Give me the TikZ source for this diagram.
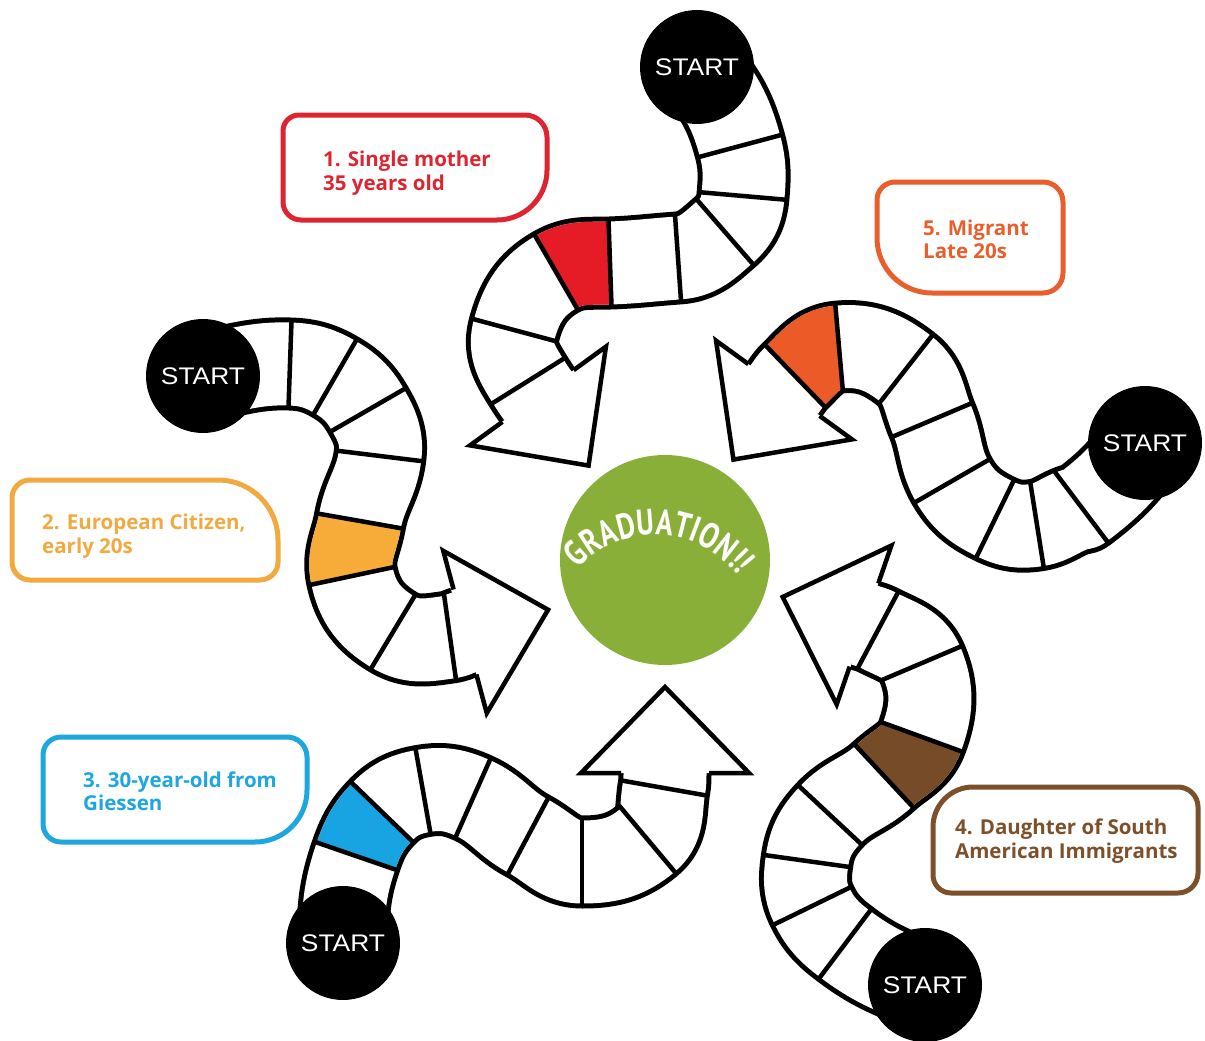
\documentclass[tikz,border=0pt]{standalone}
\usepackage{fontspec}
\usetikzlibrary{decorations.text}
\newfontfamily\labelfont{Open Sans}
\newfontfamily\startfont[FakeStretch=1.1]{Liberation Sans}
\newfontfamily\gradfont[FakeStretch=0.78]{PT Sans}
\definecolor{redc}{RGB}{221,37,49}
\definecolor{redcell}{RGB}{229,28,38}
\definecolor{yelc}{RGB}{240,170,64}
\definecolor{yelcell}{RGB}{247,172,58}
\definecolor{bluec}{RGB}{30,166,222}
\definecolor{bluecell}{RGB}{24,164,226}
\definecolor{brownc}{RGB}{124,80,42}
\definecolor{browncell}{RGB}{118,76,40}
\definecolor{orc}{RGB}{232,94,44}
\definecolor{orcell}{RGB}{236,90,40}
\definecolor{gradgreen}{RGB}{137,175,57}

% #1 path, #2 coloured cell path, #3 cell colour, #4 cross lines x/y/heading, #5 arrow x/y/heading
\newcommand{\mytrack}[5]{%
  \draw[trackout] #1;
  \draw[trackin] #1;
  \draw[cellfill, draw=#3] #2;
  \foreach \x/\y/\h in {#4} {\draw[crossline, shift={(\x,\y)}, rotate=\h] (0,-45) -- (0,45);}
  \foreach \x/\y/\h in {#5} {%
    \fill[white, shift={(\x,\y)}, rotate=\h] (-3,-40) -- (0,-40) -- (0,-84) -- (86,0) -- (0,84) -- (0,40) -- (-3,40) -- cycle;
    \draw[arrowhd, shift={(\x,\y)}, rotate=\h] (0,44) -- (0,84) -- (86,0) -- (0,-84) -- (0,-44);}
}
% #1 colour, #2 x1, #3 y1, #4 x2, #5 y2 (image coords), #6 rTL, #7 rTR, #8 rBR, #9 rBL
\newcommand{\mylbox}[9]{%
  \draw[lboxline, draw=#1] ({#2+#6},{-#3}) -- ({#4-#7},{-#3}) arc[start angle=90, end angle=0, radius=#7]
    -- ({#4},{-#5+#8}) arc[start angle=0, end angle=-90, radius=#8]
    -- ({#2+#9},{-#5}) arc[start angle=-90, end angle=-180, radius=#9]
    -- ({#2},{-#3-#6}) arc[start angle=180, end angle=90, radius=#6] -- cycle;
}

\begin{document}
\begin{tikzpicture}[x=1pt,y=1pt,
  trackout/.style={draw=black, line width=93pt, line cap=butt, line join=round},
  trackin/.style={draw=white, line width=83pt, line cap=butt, line join=round},
  cellfill/.style={line width=83pt, line cap=butt},
  crossline/.style={draw=black, line width=4.5pt, line cap=butt},
  arrowhd/.style={draw=black, line width=4.5pt, line join=miter},
  startnode/.style={circle, fill=black, minimum size=114pt, inner sep=0pt, text=white, font=\startfont\fontsize{24}{24}\selectfont},
  lboxline/.style={line width=5pt},
  lbl/.style={font=\labelfont\bfseries\fontsize{20.5}{24}\selectfont, inner sep=0pt, anchor=base west}
]
\useasboundingbox (0,0) rectangle (1205,-1041);
\fill[white] (0,0) rectangle (1205,-1041);

% Track 1 (red)
\mytrack{(697,-67) to[out=-48,in=105] (740,-146) to[out=-75,in=85] (743,-196) to[out=-95,in=41] (725,-232) to[out=-139,in=4] (678,-258) to[out=-176,in=2] (610,-263) to[out=-178,in=30] (556,-272) to[out=-150,in=75] (514,-330) to[out=-105,in=122] (528,-381) to[out=-58,in=126] (538,-396)}
{(610,-263) to[out=-178,in=30] (556,-272)}{redcell}
{740/-146/-75, 743/-196/-95, 725/-232/-139, 678/-258/-176, 610/-263/-178, 556/-272/-150, 514/-330/-105, 528/-381/-58}
{538/-396/-54}

% Track 2 (yellow)
\mytrack{(203,-376) to[out=10,in=178] (290,-364) to[out=-2,in=150] (335,-377) to[out=-30,in=120] (368,-410) to[out=-60,in=83] (380,-456) to[out=-97,in=80] (360,-521) to[out=-100,in=102] (352,-576) to[out=-78,in=149] (393,-632) to[out=-31,in=188] (450,-637) to[out=8,in=195] (465,-632)}
{(360,-521) to[out=-100,in=102] (352,-576)}{yelcell}
{290/-364/-2, 335/-377/-30, 368/-410/-60, 380/-456/-97, 360/-521/-100, 352/-576/-78, 393/-632/-31, 450/-637/8}
{465/-632/15}

% Track 3 (blue)
\mytrack{(343,-943) to[out=90,in=251] (356,-856) to[out=71,in=226] (382,-812) to[out=46,in=190] (423,-791) to[out=10,in=156] (473,-798) to[out=-24,in=152] (528,-836) to[out=-28,in=180] (582,-862) to[out=0,in=220] (648,-840) to[out=40,in=260] (664,-788) to[out=80,in=270] (665,-773)}
{(356,-856) to[out=71,in=226] (382,-812)}{bluecell}
{356/-856/71, 382/-812/46, 423/-791/10, 473/-798/-24, 528/-836/-28, 582/-862/0, 648/-840/40, 664/-788/80}
{665/-773/90}

% Track 4 (brown)
\mytrack{(925,-985) to[out=160,in=-37] (845,-944) to[out=143,in=-64] (812,-906) to[out=116,in=-98] (807,-861) to[out=82,in=-133] (830,-815) to[out=47,in=-137] (884,-776) to[out=43,in=-110] (922,-737) to[out=70,in=-67] (922,-663) to[out=113,in=-28] (878,-630) to[out=152,in=-19] (864,-625)}
{(884,-776) to[out=43,in=-110] (922,-737)}{browncell}
{845/-944/143, 812/-906/116, 807/-861/82, 830/-815/47, 884/-776/43, 922/-737/70, 922/-663/113, 878/-630/152}
{864/-625/161}

% Track 5 (orange)
\mytrack{(1145,-443) to[out=-125,in=37] (1082,-508) to[out=-171,in=9] (1037,-525) to[out=189,in=-26] (995,-519) to[out=154,in=-60] (952,-481) to[out=120,in=-67] (932,-420) to[out=113,in=-38] (906,-369) to[out=142,in=5] (839,-347) to[out=-175,in=44] (795,-376) to[out=-136,in=54] (784,-390)}
{(839,-347) to[out=-175,in=44] (795,-376)}{orcell}
{1082/-508/-143, 1037/-525/-171, 995/-519/154, 952/-481/120, 932/-420/113, 906/-369/142, 839/-347/-175, 795/-376/-136}
{784/-390/-126}

% START circles
\node[startnode] (s1) at (697,-67) {START};
\node[startnode] (s2) at (203,-376) {START};
\node[startnode] (s3) at (343,-943) {START};
\node[startnode] (s4) at (925,-985) {START};
\node[startnode] (s5) at (1145,-443) {START};

% Graduation
\node[circle, fill=gradgreen, minimum size=210pt, inner sep=0pt] (grad) at (665,-560) {};
\path[decorate, decoration={text along path, text align=center,
  text={|\gradfont\bfseries\fontsize{36}{36}\selectfont\color{white}|GRADUATION!!}}]
  (557,-603.1) arc[start angle=160, end angle=15, radius=104];

% Label boxes
\mylbox{redc}{283}{115}{547}{220}{16}{22}{50}{18}
\node[lbl, text=redc] (l1a) at (323,-166) {1. Single mother};
\node[lbl, text=redc] (l1b) at (323,-190) {35 years old};

\mylbox{yelc}{12}{480}{278}{580}{18}{60}{18}{18}
\node[lbl, text=yelc] (l2a) at (42,-529) {2. European Citizen,};
\node[lbl, text=yelc] (l2b) at (42,-553) {early 20s};

\mylbox{bluec}{43}{737}{307}{842}{18}{20}{52}{18}
\node[lbl, text=bluec] (l3a) at (83,-787) {3. 30-year-old from};
\node[lbl, text=bluec] (l3b) at (83,-810) {Giessen};

\mylbox{brownc}{933}{787}{1198}{893}{40}{20}{20}{18}
\node[lbl, text=brownc] (l4a) at (955,-834) {4. Daughter of South};
\node[lbl, text=brownc] (l4b) at (955,-858) {American Immigrants};

\mylbox{orc}{877}{182}{1063}{293}{18}{20}{20}{55}
\node[lbl, text=orc] (l5a) at (923,-235) {5. Migrant};
\node[lbl, text=orc] (l5b) at (923,-258) {Late 20s};
\end{tikzpicture}
\end{document}
